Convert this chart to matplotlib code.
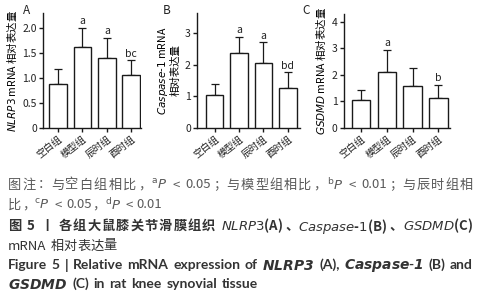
import numpy as np
import matplotlib
matplotlib.use('Agg')
import matplotlib.pyplot as plt

plt.rcParams['font.family'] = ['Noto Sans CJK SC', 'DejaVu Sans']
plt.rcParams['mathtext.fontset'] = 'dejavusans'
plt.rcParams['axes.unicode_minus'] = False

groups = ['空白组', '模型组', '辰时组', '酉时组']

nlrp3 = [0.88, 1.62, 1.41, 1.06]
nlrp3_sd = [0.31, 0.39, 0.40, 0.30]
nlrp3_sig = ['', 'a', 'a', 'bc']

casp1 = [1.05, 2.37, 2.05, 1.27]
casp1_sd = [0.35, 0.51, 0.65, 0.49]
casp1_sig = ['', 'a', 'a', 'bd']

gsdmd = [1.07, 2.10, 1.60, 1.14]
gsdmd_sd = [0.38, 0.85, 0.65, 0.49]
gsdmd_sig = ['', 'a', '', 'b']

fig = plt.figure(figsize=(4.82, 3.0), dpi=100)
W, H = 482.0, 300.0


def px_axes(left, right, top, bottom):
    return fig.add_axes([left / W, 1 - bottom / H, (right - left) / W, (bottom - top) / H])


def bar_panel(ax, vals, sd, sig, ylim, yticks, ylabels, xlim):
    x = np.arange(len(vals))
    ax.bar(x, vals, width=0.72, color='white', edgecolor='#1a1a1a', linewidth=1.0, zorder=3)
    ax.errorbar(x, vals, yerr=[np.zeros(len(vals)), sd], fmt='none', ecolor='#1a1a1a',
                elinewidth=0.9, capsize=3, capthick=0.9, zorder=2)
    for xi, v, s, t in zip(x, vals, sd, sig):
        if t:
            ax.annotate(t, (xi, v + s), xytext=(0, 1), textcoords='offset points',
                        ha='center', va='bottom', fontsize=7.5, color='#222222')
    ax.set_ylim(*ylim)
    ax.set_xlim(*xlim)
    ax.set_yticks(yticks)
    ax.set_yticklabels(ylabels, fontsize=7.5, color='#222222')
    ax.set_xticks(x)
    ax.set_xticklabels(groups, rotation=38, ha='right', rotation_mode='anchor',
                       fontsize=7, color='#222222')
    ax.spines['top'].set_visible(False)
    ax.spines['right'].set_visible(False)
    for sp in ('left', 'bottom'):
        ax.spines[sp].set_linewidth(1.0)
        ax.spines[sp].set_color('#1a1a1a')
    ax.tick_params(length=3, width=1.0, color='#1a1a1a', pad=1.5)


axA = px_axes(43, 141, 13, 128)
bar_panel(axA, nlrp3, nlrp3_sd, nlrp3_sig, (0, 2.3), [0, 0.5, 1.0, 1.5, 2.0],
          ['0', '0.5', '1.0', '1.5', '2.0'], (-0.62, 3.4))
axA.set_ylabel(r'$\mathit{NLRP3}$ mRNA 相对表达量', fontsize=7.5, labelpad=2)

axB = px_axes(197, 300, 13, 128)
bar_panel(axB, casp1, casp1_sd, casp1_sig, (0, 3.63), [0, 1, 2, 3],
          ['0', '1', '2', '3'], (-0.72, 3.5))
axB.set_ylabel('$\\mathit{Caspase}$-$\\mathit{1}$ mRNA\n相对表达量', fontsize=7.5,
               labelpad=3, linespacing=1.1)

axC = px_axes(344, 450, 14, 128)
bar_panel(axC, gsdmd, gsdmd_sd, gsdmd_sig, (0, 4.3), [0, 1, 2, 3, 4],
          ['0', '1', '2', '3', '4'], (-0.66, 3.45))
axC.set_ylabel(r'$\mathit{GSDMD}$ mRNA 相对表达量', fontsize=7.5, labelpad=3)

for lab, xp in [('A', 27), ('B', 167), ('C', 306)]:
    fig.text(xp / W, 1 - 10 / H, lab, fontsize=8.5, color='#222222', ha='center', va='center')

PUNCT = '，：；、。'


def is_cjk(c):
    o = ord(c)
    return 0x3000 <= o <= 0x303f or 0x4e00 <= o <= 0x9fff or 0xff00 <= o <= 0xffef


def tokenize(s):
    # CJK chars stand alone, other runs split at spaces, $..$ kept whole
    toks, cur, in_math, spaced = [], '', False, False
    for c in s:
        if in_math:
            cur += c
            if c == '$':
                in_math = False
            continue
        if c == '$':
            cur += c
            in_math = True
        elif c == ' ':
            if cur:
                toks.append([cur, spaced])
                cur = ''
            spaced = True
        elif is_cjk(c):
            if cur:
                toks.append([cur, spaced])
                cur = ''
                spaced = False
            toks.append([c, spaced])
            spaced = False
        else:
            cur += c
    if cur:
        toks.append([cur, spaced])
    return toks


renderer = fig.canvas.get_renderer()


def caption_line(y, s, color, weight, justify, size=9.5, family=None, x0=8, x1=473):
    toks = tokenize(s)
    fam = family or plt.rcParams['font.family']
    em = size * 100 / 72
    texts, ink, adv = [], [], []
    for t, _ in toks:
        tx = fig.text(0, 1 - y / H, t, fontsize=size, color=color, family=fam,
                      fontweight=weight, ha='left', va='center')
        w = tx.get_window_extent(renderer).width
        texts.append(tx)
        ink.append(w)
        adv.append(em if (len(t) == 1 and is_cjk(t)) else w)
    space_w = 0.33 * em
    natural = sum(adv) + space_w * sum(1 for i, (_, f) in enumerate(toks) if f and i > 0)
    gap = 0.0
    if justify and len(toks) > 1:
        gap = max(0.0, (x1 - x0 - natural) / (len(toks) - 1))
    x = x0
    for i, (tx, w, a) in enumerate(zip(texts, ink, adv)):
        if i > 0:
            x += gap
            if toks[i][1]:
                x += space_w
        t = toks[i][0]
        if a != w:
            off = 0.08 * em if t in PUNCT else (a - w) / 2
        else:
            off = 0
        tx.set_x((x + off) / W)
        x += a


caption_line(185, '图注：与空白组相比，$^{\\mathrm{a}}P$ < 0.05；与模型组相比，$^{\\mathrm{b}}P$ < 0.01；与辰时组相',
             '#5a5a5a', 'normal', True)
caption_line(205, '比，$^{\\mathrm{c}}P$ < 0.05，$^{\\mathrm{d}}P$ < 0.01', '#5a5a5a', 'normal', False)
caption_line(226, '图 5 丨 各组大鼠膝关节滑膜组织 $\\mathit{NLRP3}$(A)、$\\mathit{Caspase}$-$\\mathit{1}$(B)、$\\mathit{GSDMD}$(C)',
             '#333333', 'bold', True)
caption_line(246, 'mRNA 相对表达量', '#333333', 'normal', False)
caption_line(265, 'Figure 5 | Relative mRNA expression of $\\mathbfit{NLRP3}$ (A), $\\mathbfit{Caspase}$-$\\mathbfit{1}$ (B) and',
             '#333333', 'bold', True, size=10, family=['Lato', 'DejaVu Sans'])
caption_line(284, '$\\mathbfit{GSDMD}$ (C)  in rat knee synovial tissue', '#333333', 'bold', False,
             size=10, family=['Lato', 'DejaVu Sans'])

fig.savefig('out.png', dpi=100)
